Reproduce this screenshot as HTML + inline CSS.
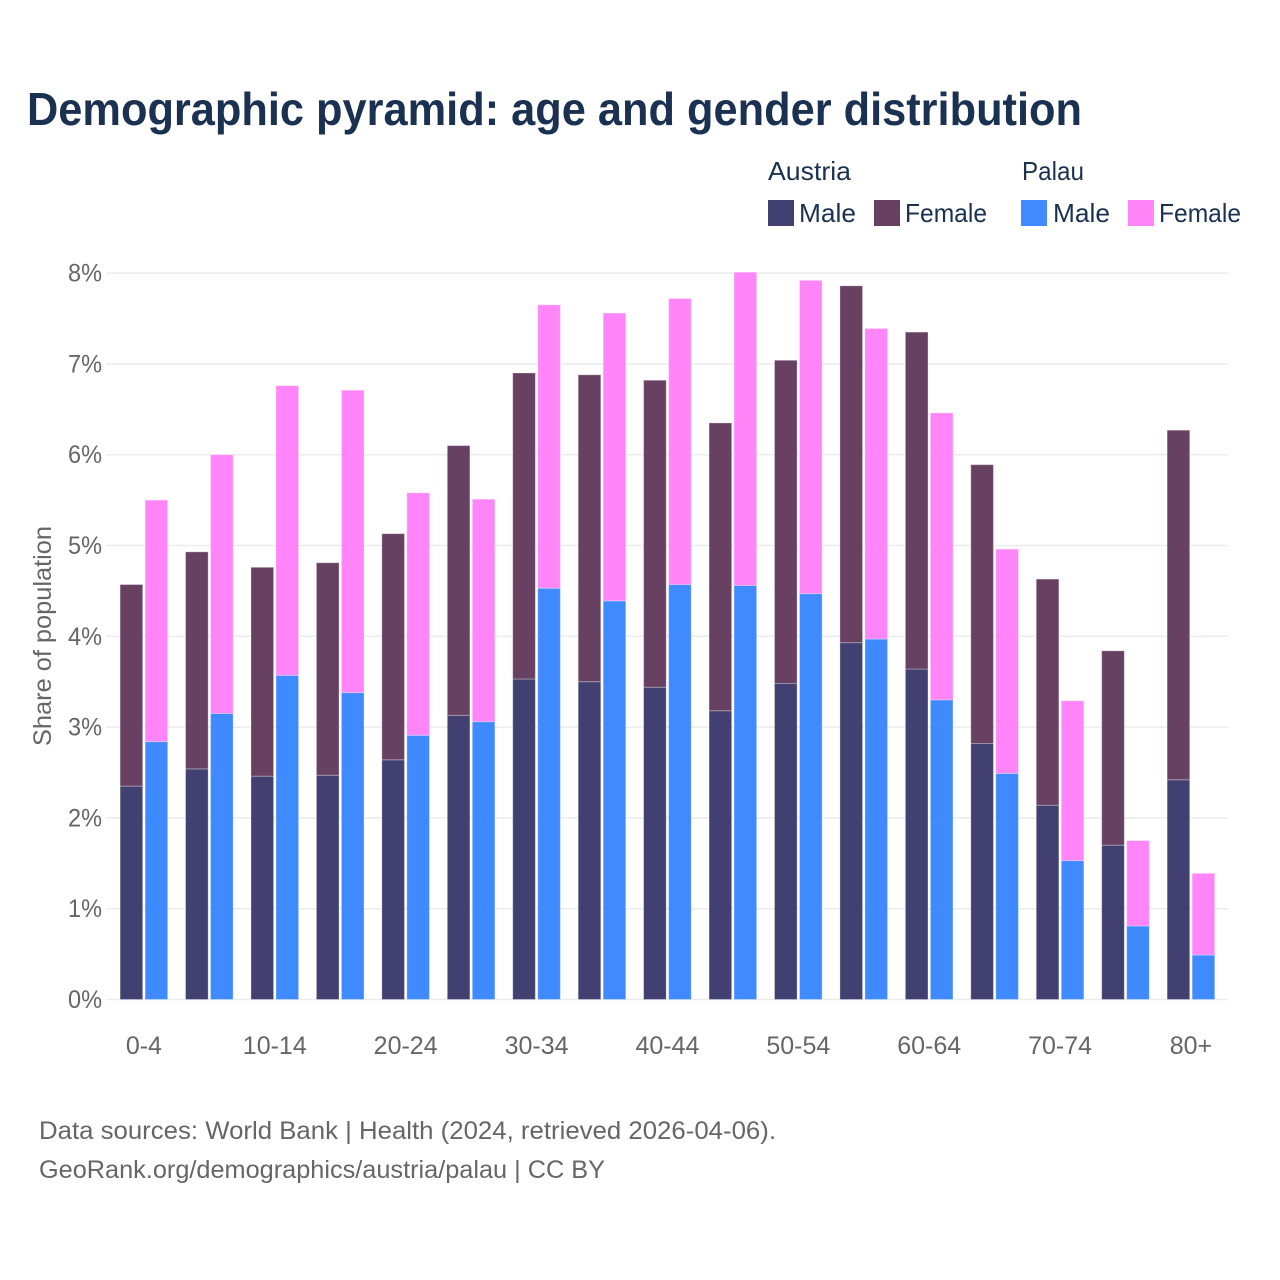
<!DOCTYPE html>
<html lang="en">
<head>
<meta charset="utf-8">
<title>Demographic pyramid: age and gender distribution</title>
<style>
  html, body { margin: 0; padding: 0; background: #ffffff; }
  svg { display: block; font-family: "Liberation Sans", sans-serif; }
</style>
</head>
<body>
<svg id="chart" width="1280" height="1280" viewBox="0 0 1280 1280" xmlns="http://www.w3.org/2000/svg">
  <rect x="0" y="0" width="1280" height="1280" fill="#ffffff"/>
  <text x="27" y="125" font-size="46" font-weight="700" fill="#1a3152" textLength="1055" lengthAdjust="spacingAndGlyphs">Demographic pyramid: age and gender distribution</text>

  <g fill="#1a3152" font-size="26">
    <text x="768" y="180" textLength="83" lengthAdjust="spacingAndGlyphs">Austria</text>
    <text x="1022" y="180" textLength="62" lengthAdjust="spacingAndGlyphs">Palau</text>
    <rect x="768" y="200" width="26" height="26" fill="#414070"/>
    <text x="799" y="222" textLength="57" lengthAdjust="spacingAndGlyphs">Male</text>
    <rect x="874" y="200" width="26" height="26" fill="#674062"/>
    <text x="905" y="222" textLength="82" lengthAdjust="spacingAndGlyphs">Female</text>
    <rect x="1021" y="200" width="26" height="26" fill="#408aff"/>
    <text x="1053" y="222" textLength="57" lengthAdjust="spacingAndGlyphs">Male</text>
    <rect x="1128" y="200" width="26" height="26" fill="#ff85f9"/>
    <text x="1159" y="222" textLength="82" lengthAdjust="spacingAndGlyphs">Female</text>
  </g>

  <g id="grid"></g>
  <g id="bars"></g>
  <g id="yticks"></g>
  <g id="xticks"></g>

  <text transform="translate(51,746) rotate(-90)" font-size="25" fill="#666666" textLength="220" lengthAdjust="spacingAndGlyphs">Share of population</text>

  <text x="39" y="1139" font-size="25" fill="#666666" textLength="737" lengthAdjust="spacingAndGlyphs">Data sources: World Bank | Health (2024, retrieved 2026-04-06).</text>
  <text x="39" y="1178" font-size="25" fill="#666666" textLength="566" lengthAdjust="spacingAndGlyphs">GeoRank.org/demographics/austria/palau | CC BY</text>
</svg>
<script>
const categories = ["0-4","5-9","10-14","15-19","20-24","25-29","30-34","35-39","40-44","45-49","50-54","55-59","60-64","65-69","70-74","75-79","80+"];
const tickLabelsX = ["0-4","10-14","20-24","30-34","40-44","50-54","60-64","70-74","80+"];
const tickValuesY = [0,1,2,3,4,5,6,7,8];
const austriaMale = [2.35,2.54,2.46,2.47,2.64,3.13,3.53,3.50,3.44,3.18,3.48,3.93,3.64,2.82,2.14,1.70,2.42];
const austriaFemale = [2.22,2.39,2.30,2.34,2.49,2.97,3.37,3.38,3.38,3.17,3.56,3.93,3.71,3.07,2.49,2.14,3.85];
const palauMale = [2.84,3.15,3.57,3.38,2.91,3.06,4.53,4.39,4.57,4.56,4.47,3.97,3.30,2.49,1.53,0.81,0.49];
const palauFemale = [2.66,2.85,3.19,3.33,2.67,2.45,3.12,3.17,3.15,3.45,3.45,3.42,3.16,2.47,1.76,0.94,0.90];

const NS = "http://www.w3.org/2000/svg";
const Y0 = 999.5, PX_PER_UNIT = 90.8;
const X0 = 143.9, BAND = 65.44, BAR_W = 22.6, BAR_OFF = 12.5;
const GRID_LEFT = 106, GRID_RIGHT = 1228;

function yScale(v) { return Y0 - v * PX_PER_UNIT; }
function xScale(i) { return X0 + i * BAND; }

const gridG = document.getElementById("grid");
const yTickG = document.getElementById("yticks");
const xTickG = document.getElementById("xticks");
const barsG = document.getElementById("bars");

tickValuesY.forEach(function (v) {
  const line = document.createElementNS(NS, "line");
  
  
  line.setAttribute("x1", GRID_LEFT);
  line.setAttribute("x2", GRID_RIGHT);
  line.setAttribute("y1", yScale(v));
  line.setAttribute("y2", yScale(v));
  line.setAttribute("stroke", "#ececec");
  line.setAttribute("stroke-width", "1.5");
  gridG.appendChild(line);

  const t = document.createElementNS(NS, "text");
  
  
  t.setAttribute("x", 102);
  t.setAttribute("y", yScale(v) + 8.5);
  t.setAttribute("text-anchor", "end");
  t.setAttribute("font-size", "25");
  t.setAttribute("fill", "#666666");
  t.setAttribute("textLength", "34");
  t.setAttribute("lengthAdjust", "spacingAndGlyphs");
  t.textContent = v + "%";
  yTickG.appendChild(t);
});

tickLabelsX.forEach(function (label) {
  const t = document.createElementNS(NS, "text");
  
  
  t.setAttribute("x", xScale(categories.indexOf(label)));
  t.setAttribute("y", 1054);
  t.setAttribute("text-anchor", "middle");
  t.setAttribute("font-size", "25");
  t.setAttribute("fill", "#666666");
  t.textContent = label;
  xTickG.appendChild(t);
});

function drawBar(i, offset, start, value, color) {
  const r = document.createElementNS(NS, "rect");
  
  
  const top = yScale(start + value);
  r.setAttribute("x", xScale(i) + offset - BAR_W / 2);
  r.setAttribute("y", top);
  r.setAttribute("width", BAR_W);
  r.setAttribute("height", yScale(start) - top);
  r.setAttribute("fill", color);
  r.setAttribute("stroke", "#ffffff");
  r.setAttribute("stroke-opacity", "0.3");
  r.setAttribute("stroke-width", "1");
  barsG.appendChild(r);
}

categories.forEach(function (c, i) {
  drawBar(i, -BAR_OFF, 0, austriaMale[i], "#414070");
  drawBar(i, -BAR_OFF, austriaMale[i], austriaFemale[i], "#674062");
  drawBar(i, BAR_OFF, 0, palauMale[i], "#408aff");
  drawBar(i, BAR_OFF, palauMale[i], palauFemale[i], "#ff85f9");
});
</script>
</body>
</html>
